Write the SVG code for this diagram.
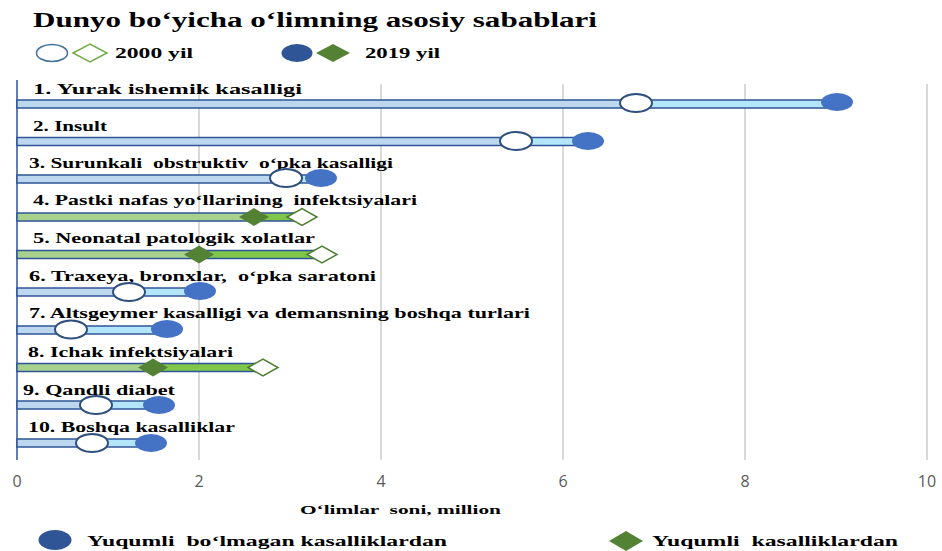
<svg xmlns="http://www.w3.org/2000/svg" width="942" height="551" viewBox="0 0 942 551">
<style>
.t{font-family:"Liberation Serif","Times New Roman",serif;font-weight:bold;fill:#000;white-space:pre}
.lbl{font-size:15px}
.tick{font-family:"Open Sans","Liberation Sans",sans-serif;font-size:16px;fill:#595959;text-anchor:middle}
.grid{stroke:#D9D9D9;stroke-width:2}
.bout{fill:none;stroke:#2F5597;stroke-width:1.5}
.bl1{fill:#BDD7EE}
.bl2{fill:#B3E6FB}
.gr1{fill:#A9D18E}
.gr2{fill:#7FC64A}
.o00{fill:#fff;stroke:#2F4F7F;stroke-width:2}
.o19{fill:#4472C4}
.d00{fill:#fff;stroke:#4E7F30;stroke-width:1.5}
.d19{fill:#548235}
</style>
<rect width="942" height="551" fill="#fff"/>
<text class="t" x="33" y="27" font-size="20" textLength="564" lengthAdjust="spacingAndGlyphs">Dunyo bo‘yicha o‘limning asosiy sabablari</text>
<g id="legend-top">
<ellipse cx="52" cy="53" rx="15.5" ry="8.5" fill="#fff" stroke="#41719C" stroke-width="1.5"/>
<polygon points="73,53 90,44 107,53 90,62" fill="#fff" stroke="#70AD47" stroke-width="1.5"/>
<text class="t" x="115" y="58" font-size="14" textLength="78" lengthAdjust="spacingAndGlyphs">2000 yil</text>
<ellipse cx="297" cy="53" rx="15.5" ry="9" fill="#2F5597"/>
<polygon points="316,53 333,44 350,53 333,62" fill="#548235"/>
<text class="t" x="365" y="58" font-size="14" textLength="75" lengthAdjust="spacingAndGlyphs">2019 yil</text>
</g>
<g id="grid">
<line class="grid" x1="199" y1="84" x2="199" y2="460"/>
<line class="grid" x1="381" y1="84" x2="381" y2="460"/>
<line class="grid" x1="563" y1="84" x2="563" y2="460"/>
<line class="grid" x1="745" y1="84" x2="745" y2="460"/>
<line class="grid" x1="927" y1="84" x2="927" y2="460"/>
<line x1="17" y1="80" x2="17" y2="460" stroke="#2F5597" stroke-width="1.5"/>
</g>
<g id="row1">
<text class="t lbl" x="33" y="94" textLength="269" lengthAdjust="spacingAndGlyphs">1. Yurak ishemik kasalligi</text>
<rect class="bl1" x="17" y="100" width="619" height="8"/><rect class="bl2" x="636" y="100" width="201" height="8"/><rect class="bout" x="17" y="100" width="820" height="8"/>
<ellipse class="o00" cx="636" cy="103" rx="16" ry="9"/><ellipse class="o19" cx="837" cy="102" rx="16" ry="9"/>
</g>
<g id="row2">
<text class="t lbl" x="33" y="131" textLength="74" lengthAdjust="spacingAndGlyphs">2. Insult</text>
<rect class="bl1" x="17" y="137.5" width="499" height="8"/><rect class="bl2" x="516" y="137.5" width="72" height="8"/><rect class="bout" x="17" y="137.5" width="571" height="8"/>
<ellipse class="o00" cx="516" cy="141" rx="16" ry="9"/><ellipse class="o19" cx="588" cy="141" rx="16" ry="9"/>
</g>
<g id="row3">
<text class="t lbl" x="29" y="168" textLength="364" lengthAdjust="spacingAndGlyphs">3. Surunkali  obstruktiv  o‘pka kasalligi</text>
<rect class="bl1" x="17" y="175" width="269" height="8"/><rect class="bl2" x="286" y="175" width="35" height="8"/><rect class="bout" x="17" y="175" width="304" height="8"/>
<ellipse class="o00" cx="286" cy="178" rx="16" ry="9"/><ellipse class="o19" cx="321" cy="178" rx="16" ry="9"/>
</g>
<g id="row4">
<text class="t lbl" x="33" y="205" textLength="384" lengthAdjust="spacingAndGlyphs">4. Pastki nafas yo‘llarining  infektsiyalari</text>
<rect class="gr1" x="17" y="213" width="237" height="8"/><rect class="gr2" x="254" y="213" width="48" height="8"/><rect class="bout" x="17" y="213" width="285" height="8"/>
<polygon class="d19" points="239,217 254,208 269,217 254,226"/>
<polygon class="d00" points="287,217 302,208.5 317,217 302,225.5"/>
</g>
<g id="row5">
<text class="t lbl" x="33" y="243" textLength="282" lengthAdjust="spacingAndGlyphs">5. Neonatal patologik xolatlar</text>
<rect class="gr1" x="17" y="250.5" width="182" height="8"/><rect class="gr2" x="199" y="250.5" width="123" height="8"/><rect class="bout" x="17" y="250.5" width="305" height="8"/>
<polygon class="d19" points="184,254.5 199,245.5 214,254.5 199,263.5"/>
<polygon class="d00" points="307,254.5 322,246 337,254.5 322,263"/>
</g>
<g id="row6">
<text class="t lbl" x="29" y="281" textLength="347" lengthAdjust="spacingAndGlyphs">6. Traxeya, bronxlar,  o‘pka saratoni</text>
<rect class="bl1" x="17" y="288" width="112" height="8"/><rect class="bl2" x="129" y="288" width="71" height="8"/><rect class="bout" x="17" y="288" width="183" height="8"/>
<ellipse class="o00" cx="129" cy="292" rx="16" ry="9"/><ellipse class="o19" cx="200" cy="291" rx="16" ry="9"/>
</g>
<g id="row7">
<text class="t lbl" x="29" y="318" textLength="501" lengthAdjust="spacingAndGlyphs">7. Altsgeymer kasalligi va demansning boshqa turlari</text>
<rect class="bl1" x="17" y="326" width="54" height="8"/><rect class="bl2" x="71" y="326" width="96" height="8"/><rect class="bout" x="17" y="326" width="150" height="8"/>
<ellipse class="o00" cx="71" cy="329.5" rx="16" ry="9"/><ellipse class="o19" cx="167" cy="329" rx="16" ry="9"/>
</g>
<g id="row8">
<text class="t lbl" x="28" y="357" textLength="205" lengthAdjust="spacingAndGlyphs">8. Ichak infektsiyalari</text>
<rect class="gr1" x="17" y="363.5" width="136" height="8"/><rect class="gr2" x="153" y="363.5" width="110" height="8"/><rect class="bout" x="17" y="363.5" width="246" height="8"/>
<polygon class="d19" points="138,367.5 153,358.5 168,367.5 153,376.5"/>
<polygon class="d00" points="248,367.5 263,359 278,367.5 263,376"/>
</g>
<g id="row9">
<text class="t lbl" x="23" y="395" textLength="152" lengthAdjust="spacingAndGlyphs">9. Qandli diabet</text>
<rect class="bl1" x="17" y="401" width="79" height="8"/><rect class="bl2" x="96" y="401" width="63" height="8"/><rect class="bout" x="17" y="401" width="142" height="8"/>
<ellipse class="o00" cx="96" cy="405" rx="16" ry="9"/><ellipse class="o19" cx="159" cy="405" rx="16" ry="9"/>
</g>
<g id="row10">
<text class="t lbl" x="28" y="432" textLength="207" lengthAdjust="spacingAndGlyphs">10. Boshqa kasalliklar</text>
<rect class="bl1" x="17" y="439" width="75" height="8"/><rect class="bl2" x="92" y="439" width="59" height="8"/><rect class="bout" x="17" y="439" width="134" height="8"/>
<ellipse class="o00" cx="92" cy="443" rx="16" ry="9"/><ellipse class="o19" cx="151" cy="443" rx="16" ry="9"/>
</g>
<g id="axis">
<text class="tick" x="17" y="487">0</text>
<text class="tick" x="199" y="487">2</text>
<text class="tick" x="381" y="487">4</text>
<text class="tick" x="563" y="487">6</text>
<text class="tick" x="745" y="487">8</text>
<text class="tick" x="927" y="487">10</text>
<text class="t" x="300" y="514" font-size="13" textLength="201" lengthAdjust="spacingAndGlyphs">O‘limlar  soni, million</text>
</g>
<g id="legend-bottom">
<ellipse cx="55" cy="540" rx="16.5" ry="10" fill="#2F5597"/>
<text class="t" x="87" y="546" font-size="15" textLength="360" lengthAdjust="spacingAndGlyphs">Yuqumli  bo‘lmagan kasalliklardan</text>
<polygon points="609,541 626,531 643,541 626,551" fill="#548235"/>
<text class="t" x="652" y="546" font-size="15" textLength="246" lengthAdjust="spacingAndGlyphs">Yuqumli  kasalliklardan</text>
</g>
</svg>
